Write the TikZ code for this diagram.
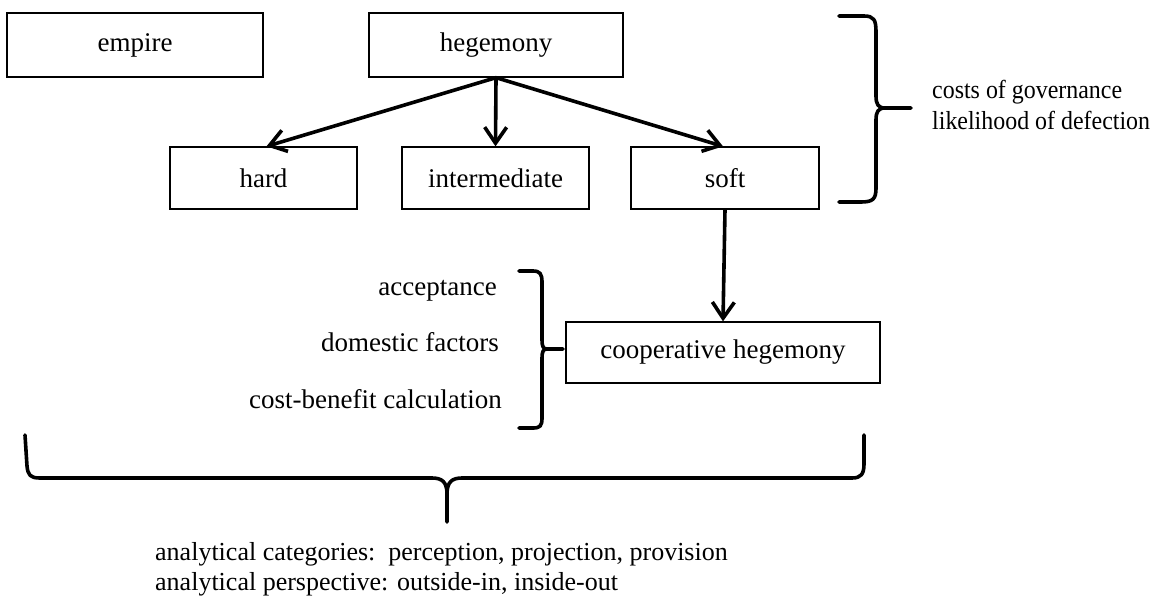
\documentclass[tikz,border=0pt]{standalone}
\usepackage{fontspec}
\setmainfont{Liberation Serif}
\usetikzlibrary{arrows.meta}
\begin{document}
\begin{tikzpicture}[x=1pt,y=-1pt,
  every node/.style={font=\fontsize{27}{30}\selectfont, inner sep=0pt},
  catbox/.style={draw, line width=1.3pt, minimum height=62pt, anchor=center},
  arr/.style={line width=3.6pt, -{Straight Barb[length=16pt,width=22pt]}},
  brace/.style={line width=3.6pt, line cap=round, line join=round},
  lbl/.style={anchor=base east},
  rlbl/.style={anchor=base west},
  smallfont/.style={font=\fontsize{26}{30}\selectfont}]
\useasboundingbox (0,0) rectangle (1154,599);
% boxes
\node[catbox, minimum width=256pt, minimum height=64pt] (emp) at (135,45) {empire};
\node[catbox, minimum width=254pt, minimum height=64pt] (heg) at (496,45) {hegemony};
\node[catbox, minimum width=187pt] (hard) at (263.5,178) {hard};
\node[catbox, minimum width=187pt] (inter) at (495.5,178) {intermediate};
\node[catbox, minimum width=188pt] (soft) at (725,178) {soft};
\node[catbox, minimum width=314pt, minimum height=61pt] (coop) at (723,352.5) {cooperative hegemony};
% arrows
\draw[arr] (heg.south) -- ([xshift=3pt]hard.north);
\draw[arr] (heg.south) -- (inter.north);
\draw[arr] (heg.south) -- ([xshift=-2pt]soft.north);
\draw[arr] (soft.south) -- (coop.north);
% right brace
\coordinate (rbtip) at (911,108);
\draw[brace] (839,16) -- (864,16) .. controls (874,16) and (876,20) .. (876,32) -- (876,96)
  .. controls (876,104) and (878,108) .. (885,108) -- (rbtip);
\draw[brace] (885,108) .. controls (878,108) and (876,112) .. (876,120) -- (876,188)
  .. controls (876,199) and (873,202) .. (861,202) -- (839,202);
\node[rlbl, smallfont] (gov) at (932,99) {\scalebox{0.92}[1]{costs of governance}};
\node[rlbl, smallfont] (def) at (932,130) {\scalebox{0.92}[1]{likelihood of defection}};
% small brace
\coordinate (sbtip) at (563,349);
\draw[brace] (519,271) -- (533,271) .. controls (540,271) and (542,274) .. (542,282) -- (542,340)
  .. controls (542,346) and (543,349) .. (547,349) -- (sbtip);
\draw[brace] (547,349) .. controls (543,349) and (542,352) .. (542,358) -- (542,418)
  .. controls (542,426) and (540,428) .. (533,428) -- (519,428);
\node[lbl] (acc) at (497,295) {acceptance};
\node[lbl] (dom) at (499,351) {domestic factors};
\node[lbl] (cbc) at (502,408) {cost-benefit calculation};
% big brace
\coordinate (bbtip) at (447,522);
\draw[brace] (25,435) -- (27,466) .. controls (28,475) and (30,478) .. (40,478) -- (432,478)
  .. controls (442,478) and (447,482) .. (447,494) -- (bbtip);
\draw[brace] (447,494) .. controls (447,482) and (452,478) .. (462,478) -- (852,478)
  .. controls (861,478) and (864,474) .. (864,464) -- (864,435);
\node[rlbl, smallfont] (cat) at (155,560) {analytical categories:\ \ perception, projection, provision};
\node[rlbl, smallfont] (per) at (155,590) {analytical perspective: outside-in, inside-out};
\end{tikzpicture}
\end{document}
